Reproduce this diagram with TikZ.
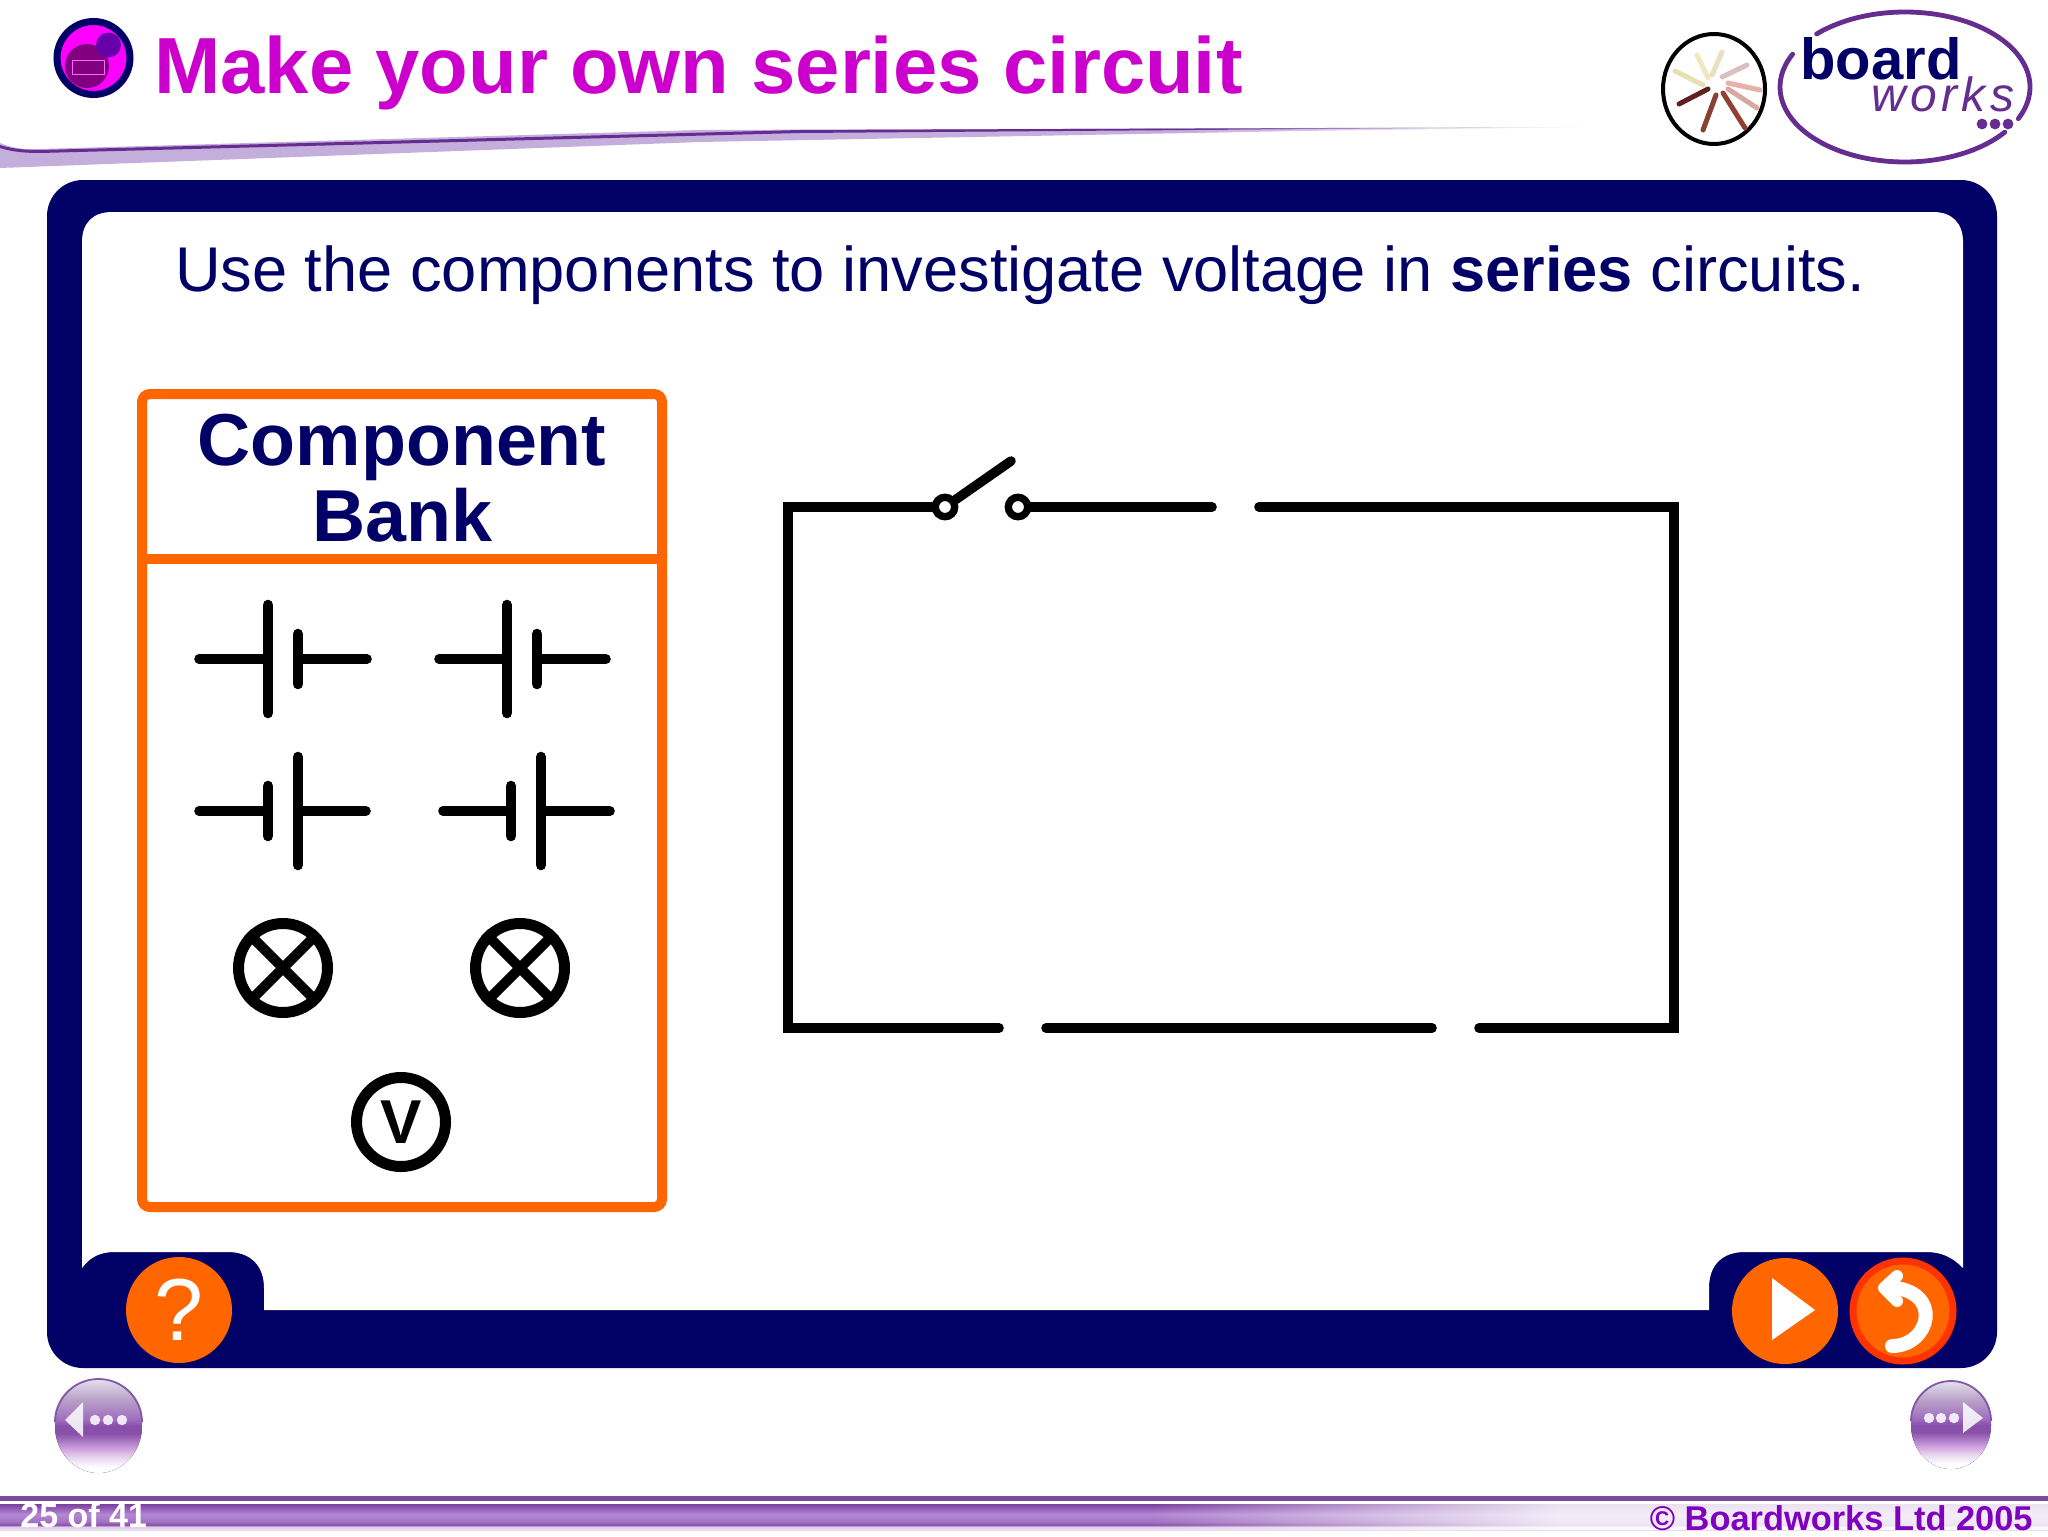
\documentclass[tikz,border=0pt]{standalone}
\usepackage{fontspec}
\setmainfont{Liberation Sans}
\usetikzlibrary{fadings}
\definecolor{navy}{HTML}{000066}
\definecolor{bworange}{HTML}{FF6600}
\definecolor{bwred}{HTML}{FF3300}
\definecolor{bwpurple}{HTML}{662D91}
\definecolor{titlecol}{HTML}{CC00CC}
\definecolor{footcol}{HTML}{8000BF}
\definecolor{iconbg}{HTML}{FF00FF}
\definecolor{iconbig}{HTML}{800080}
\definecolor{iconsmall}{HTML}{6600AA}
\definecolor{swband}{HTML}{C4AEDC}
\definecolor{ballA}{HTML}{CFA0E0}
\definecolor{ballB}{HTML}{A070C0}
\definecolor{ballC}{HTML}{8850A8}
\definecolor{ballD}{HTML}{B8A0C8}
\definecolor{ballE}{HTML}{E4E0EA}
\definecolor{ballF}{HTML}{EAD8F0}
\definecolor{barA}{HTML}{E8DCF0}
\definecolor{barB}{HTML}{E0D0EC}
\definecolor{barC}{HTML}{8A4CA8}
\definecolor{barD}{HTML}{B488D4}
\definecolor{barE}{HTML}{7B3F9E}
\def\fs#1{\fontsize{#1}{#1}\selectfont}
\pgfdeclareverticalshading{ballshade}{100bp}{color(0bp)=(white); color(25bp)=(white); color(28bp)=(white); color(33bp)=(ballF); color(38bp)=(ballA); color(46bp)=(ballC); color(50bp)=(ballC); color(54bp)=(ballB); color(64bp)=(ballD); color(75bp)=(ballE); color(100bp)=(ballE)}
\pgfdeclareverticalshading{barshade}{100bp}{color(0bp)=(barA); color(25bp)=(barA); color(31bp)=(barB); color(35bp)=(barC); color(40bp)=(ballB); color(55bp)=(barD); color(75bp)=(barE); color(100bp)=(barE)}
\pgfdeclarehorizontalshading{swlineshade}{100bp}{color(0bp)=(bwpurple); color(25bp)=(bwpurple); color(62bp)=(bwpurple); color(75bp)=(white); color(100bp)=(white)}
\pgfdeclarehorizontalshading{swbandshade}{100bp}{color(0bp)=(swband); color(25bp)=(swband); color(62bp)=(swband); color(75bp)=(white); color(100bp)=(white)}
\tikzset{
	wire/.style={line width=4.8pt,line cap=round,black},
	plate/.style={line width=5.3pt,line cap=round,black},
	term/.style={circle,draw=black,fill=white,line width=3.7pt,inner sep=0pt,minimum size=9.7pt},
	lamp/.style={circle,draw=black,fill=white,line width=5.5pt,inner sep=0pt,minimum size=44.5pt},
	btn/.style={circle,fill=bworange,text=white,inner sep=0pt,minimum size=53pt},
	ray/.style={line width=2.5pt,line cap=round},
	ballbody/.style={shading=ballshade,draw=none},
	ballmark/.style={fill=white,opacity=.85},
}
\begin{document}
\begin{tikzpicture}[x=.5pt,y=-.5pt]
\useasboundingbox (0,0) rectangle (2048,1536);
\fill[white] (0,0) rectangle (2048,1536);

% heading
\draw[navy,fill=iconbg,line width=3.5pt] (93.5,58) circle (18.25pt);
\fill[iconbig] (87,66) circle (11pt);
\fill[iconsmall] (108.5,45) circle (6.25pt);
\draw[iconbg!60!white,line width=.4pt] (72,60) rectangle (104,74);
\node (title) at (154,94) [anchor=base west,text=titlecol,font=\fs{39.8}\bfseries,inner sep=0pt] {Make your own series circuit};

% swoosh under the heading
\shade[shading=swbandshade] (0,143) .. controls (10,147) and (20,150) .. (40,149) -- (700,130) -- (1590,127) -- (1300,131) -- (700,142) -- (0,168) -- cycle;
\shade[shading=swlineshade] (0,145) .. controls (10,148) and (20,150) .. (40,150) -- (800,130) -- (1590,127) -- (800,133) -- (40,153) .. controls (20,153) and (10,151) .. (0,148) -- cycle;

% logo
\draw[black,line width=2pt] (1714,89) ellipse (25.5pt and 27.5pt);
\foreach \a/\b/\c/\d/\col in {1697/55/1708/78/F0E8C0,1722/52/1712/75/E8E0C0,1675/71/1703/85/E8E0B0,1747/65/1722/77/D8C0C0,1728/83/1760/90/E8B0A8,1728/89/1757/108/D8A8A0,1708/89/1679/104/602020,1716/95/1703/130/884030,1723/93/1745/128/904030}
  {\definecolor{raycol}{HTML}{\col}\draw[ray,raycol] (\a,\b) -- (\c,\d);}
\draw[bwpurple,line width=2.4pt,line cap=round] plot[domain=-25:135,samples=60,smooth] ({1905+125*cos(\x)},{87-75*sin(\x)});
\draw[bwpurple,line width=2.4pt,line cap=round] plot[domain=154:323,samples=60,smooth] ({1905+125*cos(\x)},{87-75*sin(\x)});
\node (board) at (1881,80) [anchor=base,text=navy,font=\fs{29}\bfseries,inner sep=0pt] {board};
\node (works) at (1943,112) [anchor=base,text=bwpurple,font=\fs{24}\itshape\addfontfeatures{LetterSpace=9},inner sep=0pt] {works};
\foreach \x in {1982,1995,2008}
  \fill[bwpurple] (\x,124) circle (2.7pt);

% frame
\fill[navy,rounded corners=18pt] (47,180) rectangle (1997,1368);
\fill[white] (112,212) -- (1933,212) .. controls (1952,212) and (1963,223) .. (1963,242) -- (1963,1268) .. controls (1952,1257) and (1942,1252) .. (1925,1252) -- (1745,1252) .. controls (1722,1252) and (1709,1265) .. (1709,1288) -- (1709,1310) -- (264,1310) -- (264,1288) .. controls (264,1265) and (250,1252) .. (228,1252) -- (115,1252) .. controls (100,1252) and (90,1257) .. (82,1268) -- (82,242) .. controls (82,223) and (93,212) .. (112,212) -- cycle;
\node (intro) at (1020,291) [anchor=base,text=navy,font=\fs{31.6},inner sep=0pt] {Use the components to investigate voltage in \textbf{series} circuits.};

% component bank
\draw[bworange,fill=white,line width=5pt,rounded corners=4pt] (142,394) rectangle (662,1207);
\draw[bworange,line width=5pt] (142,559) -- (662,559);
\node (bank1) at (402,465) [anchor=base,text=navy,font=\fs{36.8}\bfseries,inner sep=0pt] {Component};
\node (bank2) at (402,541) [anchor=base,text=navy,font=\fs{36.8}\bfseries,inner sep=0pt] {Bank};

% cells: lead, plate, plate, lead
\foreach \a/\p/\q/\b/\yy/\hp/\hq in {199/268/298/367/659/54/25, 439/507/537/606/659/54/25, 199/268/298/366/811/25/54, 443/511/541/610/811/25/54}{
  \draw[wire] (\a,\yy) -- (\p,\yy);
  \draw[wire] (\q,\yy) -- (\b,\yy);
  \draw[plate] (\p,\yy-\hp) -- (\p,\yy+\hp);
  \draw[plate] (\q,\yy-\hq) -- (\q,\yy+\hq);
}
\node (lamp1) at (283,968) [lamp] {};
\node (lamp2) at (520,968) [lamp] {};
\foreach \l in {lamp1,lamp2}{
  \draw[black,line width=5pt] (\l.north west) -- (\l.south east);
  \draw[black,line width=5pt] (\l.north east) -- (\l.south west);
}
\node (volt) at (401,1122) [lamp,font=\fs{31}\bfseries] {V};

% circuit
\node (sw1) at (945,507) [term] {};
\node (sw2) at (1018,507) [term] {};
\coordinate (arm) at (1011,461);
\coordinate (tl) at (788,507);
\coordinate (tr) at (1674,507);
\coordinate (bl) at (788,1028);
\coordinate (br) at (1674,1028);
\coordinate (gapa) at (1212,507);
\coordinate (gapb) at (1259,507);
\coordinate (gapc) at (999,1028);
\coordinate (gapd) at (1046,1028);
\coordinate (gape) at (1432,1028);
\coordinate (gapf) at (1479,1028);
\draw[wire] (sw1) -- (tl) -- (bl) -- (gapc);
\draw[wire] (sw1) -- (arm);
\draw[wire] (sw2) -- (gapa);
\draw[wire] (gapb) -- (tr) -- (br) -- (gapf);
\draw[wire] (gapd) -- (gape);

% buttons on the frame
\node (help) at (179,1310) [btn,font=\fs{44}] {?};
\node (play) at (1785,1311) [btn] {};
\node (back) at (1903,1311) [btn,draw=bwred,line width=3.5pt,minimum size=50pt] {};
\fill[white] (1772,1278) -- (1815,1310) -- (1772,1340) -- cycle;
\draw[white,line width=7pt,line cap=round] (1892,1346) .. controls (1930,1346) and (1945,1290) .. (1888,1287);
\draw[white,line width=6pt,line cap=round,line join=round] (1897,1276) -- (1884,1288) -- (1897,1301);

% round arrows
\fill[ballbody] (98.5,1426) ellipse (21.75pt and 23.5pt);
\draw[bwpurple!80,line width=.9pt] plot[domain=0:180,samples=30,smooth] ({98.5+43.5*cos(\x)},{1422-43*sin(\x)});
\fill[ballmark] (65,1420) -- (83,1402) -- (83,1437) -- cycle;
\foreach \x in {95,108,122}
  \fill[ballmark] (\x,1420) circle (2.6pt);
\fill[ballbody] (1951,1425) ellipse (20pt and 22pt);
\draw[bwpurple!80,line width=.9pt] plot[domain=0:180,samples=30,smooth] ({1951+40*cos(\x)},{1421-40*sin(\x)});
\fill[ballmark] (1963,1402) -- (1983,1418) -- (1963,1433) -- cycle;
\foreach \x in {1929,1941,1954}
  \fill[ballmark] (\x,1418) circle (2.6pt);

% footer
\fill[bwpurple!85] (0,1496) rectangle (2048,1501);
\shade[shading=barshade] (0,1504) rectangle (2048,1530);
\fill[white,opacity=.85,path fading=west] (1150,1502) rectangle (1560,1530);
\fill[white,opacity=.85] (1560,1502) rectangle (2048,1530);
\node (page) at (20,1527) [anchor=base west,text=white,font=\fs{17}\bfseries,inner sep=0pt] {25 of 41};
\node (copy) at (2033,1530) [anchor=base east,text=footcol,font=\fs{17.2}\bfseries,inner sep=0pt] {© Boardworks Ltd 2005};
\end{tikzpicture}
\end{document}
